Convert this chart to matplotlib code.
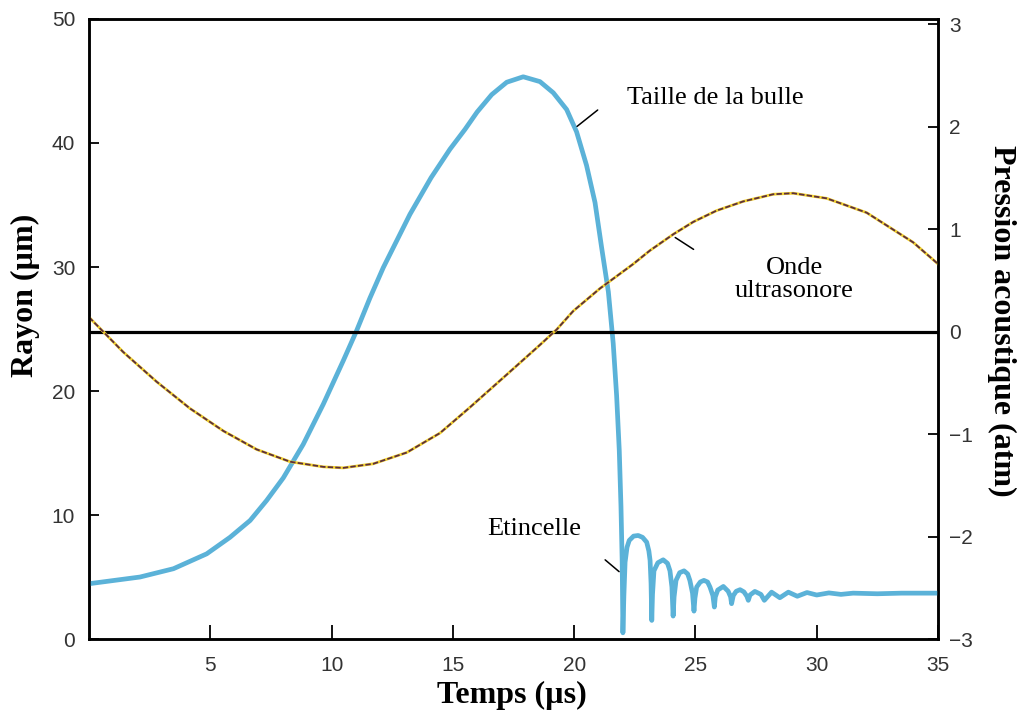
import numpy as np
import matplotlib
matplotlib.use("Agg")
import matplotlib.pyplot as plt

# bubble radius (um) vs time (us)
t_bulle = [0.0, 2.1, 3.48, 4.85, 5.81, 6.64, 7.32, 8.01, 8.83, 9.66, 10.48, 11.03,
           11.58, 12.13, 12.68, 13.23, 14.1, 14.88, 15.5, 16.0, 16.6, 17.22, 17.9,
           18.59, 19.14, 19.69, 20.1, 20.51, 20.86, 21.13, 21.41, 21.61, 21.75, 21.86,
           21.93, 21.98, 22.01,
           22.05, 22.1, 22.18, 22.27, 22.45, 22.64, 22.82, 22.99, 23.08, 23.13, 23.17, 23.2,
           23.23, 23.29, 23.45, 23.67, 23.85, 23.95, 24.03, 24.08,
           24.12, 24.2, 24.35, 24.53, 24.68, 24.77, 24.88, 24.94,
           24.98, 25.05, 25.2, 25.35, 25.5, 25.6, 25.72, 25.78,
           25.82, 25.92, 26.15, 26.35, 26.45, 26.49,
           26.56, 26.68, 26.84, 27.0, 27.12, 27.18,
           27.25, 27.45, 27.7, 27.84, 28.14, 28.48, 28.83, 29.2, 29.6,
           30.0, 30.5, 31.0, 31.5, 32.5, 33.5, 35.0]
r_bulle = [4.46, 5.0, 5.67, 6.87, 8.2, 9.56, 11.17, 13.0, 15.7, 18.95, 22.44, 24.86,
           27.5, 29.95, 32.1, 34.25, 37.2, 39.5, 41.1, 42.5, 43.9, 44.9, 45.34,
           44.95, 44.05, 42.7, 40.9, 38.2, 35.2, 31.6, 28.0, 23.85, 19.65, 15.2,
           10.7, 6.2, 0.5,
           3.5, 6.2, 7.4, 7.95, 8.3, 8.35, 8.2, 7.81, 7.1, 6.34, 4.5, 1.5,
           3.6, 5.5, 6.15, 6.39, 6.1, 5.5, 4.2, 1.85,
           3.4, 4.73, 5.35, 5.5, 5.25, 4.73, 3.7, 2.25,
           3.3, 4.19, 4.6, 4.73, 4.6, 4.19, 3.5, 2.58,
           3.4, 3.95, 4.24, 3.85, 3.4, 2.85,
           3.5, 3.85, 3.98, 3.8, 3.45, 3.12,
           3.55, 3.84, 3.6, 3.12, 3.78, 3.33, 3.78, 3.45, 3.75,
           3.55, 3.72, 3.6, 3.7, 3.65, 3.7, 3.7]

# acoustic pressure (atm)
t_onde = [0.0, 1.41, 2.79, 4.16, 5.54, 6.91, 8.29, 9.66, 10.48, 11.72, 13.1, 14.47,
          15.7, 17.22, 18.59, 19.28, 19.96, 21.06, 22.44, 23.12, 24.09, 24.91, 25.87,
          26.97, 28.21, 29.03, 30.41, 32.06, 33.98, 35.0]
p_onde = [0.14, -0.2, -0.49, -0.75, -0.97, -1.15, -1.27, -1.32, -1.33, -1.29, -1.18, -0.99,
          -0.74, -0.42, -0.13, 0.02, 0.2, 0.42, 0.66, 0.79, 0.95, 1.07, 1.18,
          1.27, 1.34, 1.35, 1.3, 1.16, 0.87, 0.66]

x_ticks = [5, 10, 15, 20, 25, 30, 35]
r_ticks = [0, 10, 20, 30, 40, 50]
p_ticks = [-3, -2, -1, 0, 1, 2, 3]

serif = "Liberation Serif"
sans = "Liberation Sans"

fig = plt.figure(figsize=(10.2, 7.14), dpi=100)
ax = fig.add_axes([0.0873, 0.105, 0.8323, 0.8684])
ax2 = ax.twinx()

ax.plot(t_bulle, r_bulle, color="#5bb2d8", lw=3.4, solid_joinstyle="round",
        solid_capstyle="round", zorder=3)

# pressure wave: yellow line under dark dashes, like the scan
ax2.plot(t_onde, p_onde, color="#f2d22e", lw=2.0, zorder=2)
ax2.plot(t_onde, p_onde, color="#5b2d3f", lw=1.3, dashes=(3, 1.2), zorder=2)
ax2.axhline(0, color="black", lw=2.3, zorder=1)

ax.set_xlim(0, 35)
ax.set_ylim(0, 50)
ax2.set_ylim(-2.97, 3.05)
ax.set_xticks(x_ticks)
ax.set_yticks(r_ticks)
ax2.set_yticks(p_ticks)

for a in (ax, ax2):
    for s in a.spines.values():
        s.set_linewidth(1.8)
    for lab in a.get_xticklabels() + a.get_yticklabels():
        lab.set_fontfamily(sans)
        lab.set_fontsize(15)
        lab.set_color("#333333")

ax.tick_params(axis="x", direction="in", length=10, width=1.3, pad=12)
ax.tick_params(axis="y", direction="in", length=7, width=1.3, pad=10)
ax2.tick_params(axis="y", direction="in", length=7, width=1.3, pad=8)

# labels in the plot, with small leader lines
txt = dict(fontfamily=serif, fontsize=19, ha="center", va="center")
ax.text(25.8, 43.6, "Taille de la bulle", **txt)
ax.text(29.08, 29.0, "Onde\nultrasonore", linespacing=1.1, **txt)
ax.text(18.34, 8.9, "Etincelle", **txt)
lead = dict(arrowstyle="-", color="black", lw=1.1)
ax.annotate("", xy=(20.03, 41.2), xytext=(21.06, 42.8), arrowprops=lead)
ax.annotate("", xy=(24.07, 32.5), xytext=(25.02, 31.3), arrowprops=lead)
ax.annotate("", xy=(21.94, 5.29), xytext=(21.19, 6.53), arrowprops=lead)

lbl = dict(fontfamily=serif, fontsize=23, fontweight="bold", ha="center", va="center")
fig.text(0.0245, 0.587, "Rayon (µm)", rotation=90, **lbl)
fig.text(0.502, 0.026, "Temps (µs)", **lbl)
fig.text(0.982, 0.55, "Pression acoustique (atm)", rotation=-90, **lbl)

fig.savefig("out.png", dpi=100)
